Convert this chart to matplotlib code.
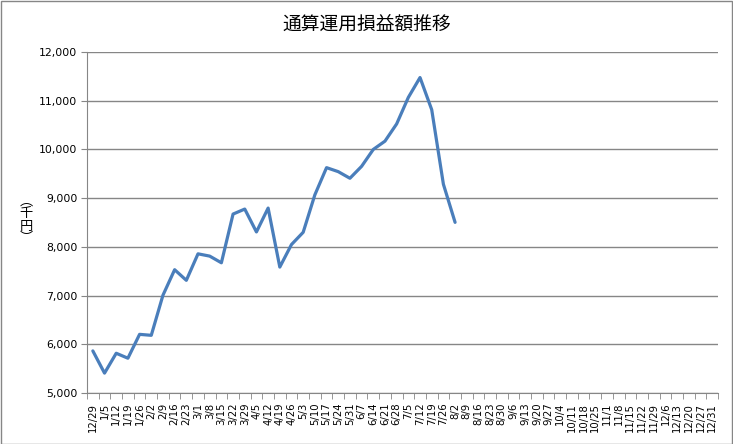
import matplotlib
matplotlib.use('Agg')
import matplotlib.pyplot as plt
from matplotlib.patches import Rectangle
from matplotlib.ticker import FuncFormatter, FixedLocator

plt.rcParams['font.family'] = ['Noto Sans CJK JP', 'DejaVu Sans']

dates = ['12/29', '1/5', '1/12', '1/19', '1/26', '2/2', '2/9', '2/16', '2/23',
         '3/1', '3/8', '3/15', '3/22', '3/29', '4/5', '4/12', '4/19', '4/26',
         '5/3', '5/10', '5/17', '5/24', '5/31', '6/7', '6/14', '6/21', '6/28',
         '7/5', '7/12', '7/19', '7/26', '8/2', '8/9', '8/16', '8/23', '8/30',
         '9/6', '9/13', '9/20', '9/27', '10/4', '10/11', '10/18', '10/25',
         '11/1', '11/8', '11/15', '11/22', '11/29', '12/6', '12/13', '12/20',
         '12/27', '12/31']

profit = [5864, 5408, 5816, 5714, 6204, 6184, 7007, 7531, 7313, 7857, 7810,
          7673, 8673, 8776, 8306, 8796, 7585, 8048, 8299, 9068, 9626, 9544,
          9408, 9653, 10000, 10170, 10524, 11068, 11476, 10816, 9286, 8503]

fig = plt.figure(figsize=(7.33, 4.44), dpi=100)
fig.patches.append(Rectangle((0.001, 0.001), 0.997, 0.996, transform=fig.transFigure,
                             fill=False, edgecolor='#868686', linewidth=1))

ax = fig.add_axes([87 / 733, 51 / 444, 631 / 733, 341 / 444])

ax.plot(range(len(profit)), profit, color='#4A7EBB', linewidth=2.3,
        solid_joinstyle='round', solid_capstyle='round')

ax.set_xlim(-0.5, len(dates) - 0.5)
ax.set_ylim(5000, 12000)
ax.set_yticks(range(5000, 12001, 1000))
ax.yaxis.set_major_formatter(FuncFormatter(lambda v, p: f'{int(v):,}'))
ax.grid(axis='y', color='#868686', linewidth=1)
ax.set_axisbelow(True)

ax.set_xticks(range(len(dates)))
ax.set_xticklabels(dates, rotation=90, fontsize=7.3, family='DejaVu Sans')
ax.xaxis.set_minor_locator(FixedLocator([i - 0.5 for i in range(len(dates) + 1)]))
ax.tick_params(axis='x', which='major', length=0, pad=7)
ax.tick_params(axis='x', which='minor', length=4, color='#868686')
ax.tick_params(axis='y', length=4, color='#868686', labelsize=7.8, pad=3)
for lbl in ax.get_yticklabels():
    lbl.set_family('DejaVu Sans')

for s in ['top', 'right']:
    ax.spines[s].set_visible(False)
for s in ['left', 'bottom']:
    ax.spines[s].set_color('#868686')

fig.text(0.5, 1 - 25 / 444, '通算運用損益額推移', ha='center', va='center', fontsize=13.5)

# vertical axis title, characters stacked
for i, ch in enumerate(['︵', '千', '円', '︶']):
    fig.text(26 / 733, 1 - (201 + i * 12.5) / 444, ch, ha='center', va='center',
             fontsize=9.5)

fig.savefig('out.png', dpi=100)
